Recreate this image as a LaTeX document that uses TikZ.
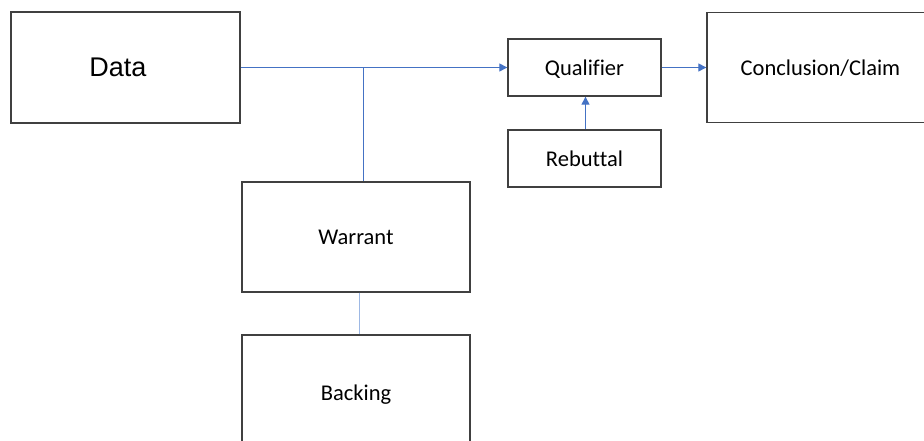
\documentclass[tikz,border=0pt]{standalone}
\usepackage{fontspec}
\setmainfont[Ligatures=NoCommon]{Carlito}
\newfontfamily\arialfont{Liberation Sans}
\usetikzlibrary{arrows.meta}
\definecolor{boxline}{HTML}{404040}
\definecolor{conn}{HTML}{4472C4}
\definecolor{connlight}{HTML}{9DB8E4}
\tikzset{
  box/.style={draw=boxline, line width=1.4pt, fill=white, inner sep=0pt, text depth=0pt, font=\fontsize{22.5}{24}\selectfont},
  link/.style={color=conn, line width=1.3pt},
  arr/.style={link, -{Triangle[length=8pt,width=8pt]}},
}
\begin{document}
\begin{tikzpicture}[x=1pt,y=-1pt]
\useasboundingbox (0,0) rectangle (924,441);
\clip (0,0) rectangle (924,441);
\node[box, minimum width=229pt, minimum height=111pt, font=\arialfont\fontsize{27}{30}\selectfont] (data) at (125.5,67.5) {\hspace*{-15pt}Data};
\node[box, minimum width=153pt, minimum height=57pt] (qual) at (584.5,67.5) {Qualifier};
\node[box, minimum width=153pt, minimum height=57pt] (reb) at (584.5,158.5) {Rebuttal};
\node[box, minimum width=227pt, minimum height=110pt] (concl) at (820.5,67.5) {Conclusion/Claim};
\node[box, minimum width=228pt, minimum height=110pt] (warrant) at (356,237) {Warrant};
\node[box, minimum width=228pt, minimum height=116pt] (backing) at (356,393) {Backing};
\coordinate (j) at (363.5,67.5);
\draw[arr] (data.east) -- (qual.west);
\draw[link] (j) -- (j |- warrant.north);
\draw[arr] (qual.east) -- (concl.west);
\draw[arr] ([xshift=1pt]reb.north) -- ([xshift=1pt]qual.south);
\draw[link, color=connlight] ([xshift=3.5pt]warrant.south) -- ([xshift=3.5pt]backing.north);
\end{tikzpicture}
\end{document}
